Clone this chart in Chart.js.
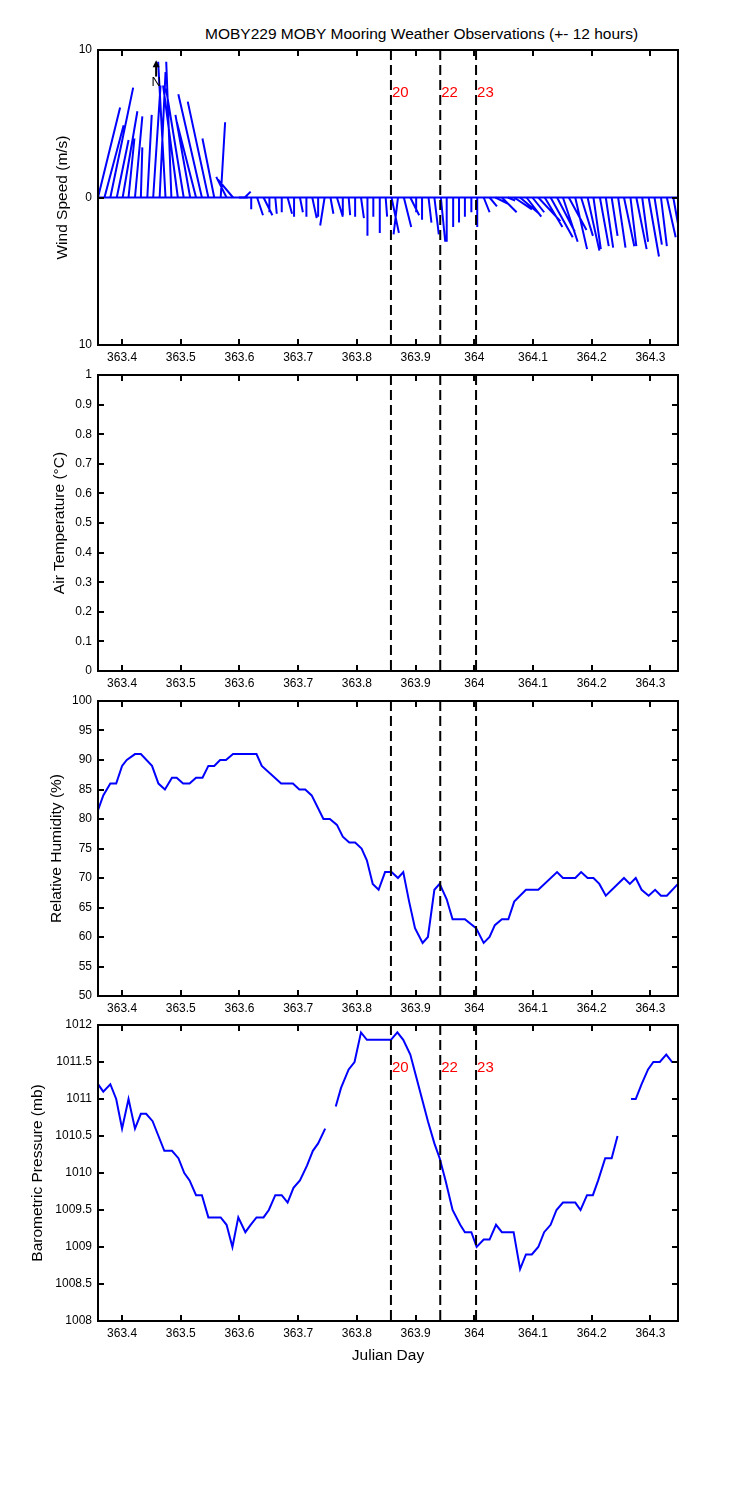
<!DOCTYPE html>
<html>
<head>
<title>MOBY229 MOBY Mooring Weather Observations</title>
<script src="https://cdn.jsdelivr.net/npm/chart.js"></script>
<style>
body { margin: 0; background: #fff; width: 750px; height: 1500px; position: relative; font-family: "Liberation Sans", Arial, sans-serif; }
canvas { position: absolute; left: 0; }
#title { position: absolute; left: 205px; top: 25px; font-size: 15.5px; line-height: 18px; color: #000; white-space: nowrap; }
</style>
</head>
<body>
<div id="title">MOBY229 MOBY Mooring Weather Observations (+- 12 hours)</div>
<canvas id="wind"></canvas>
<canvas id="air"></canvas>
<canvas id="rh"></canvas>
<canvas id="bp"></canvas>
<script>
// x range / ticks (Julian day)
const xMin = 363.359, xMax = 364.347;
const xTicks = [363.4, 363.5, 363.6, 363.7, 363.8, 363.9, 364.0, 364.1, 364.2, 364.3];

// event markers
const eventTimes = [363.858, 363.942, 364.003];
const eventLabels = ['20', '22', '23'];

// north arrow in wind panel
const northT = 363.458, northFrom = 8.2, northTo = 9.3, northLabelV = 7.8;

// wind sticks (m/s components)
const windTime = [363.359, 363.370, 363.380, 363.391, 363.401, 363.411, 363.422, 363.432, 363.443, 363.453,
  363.464, 363.474, 363.484, 363.495, 363.505, 363.516, 363.526, 363.536, 363.547, 363.557,
  363.568, 363.578, 363.589, 363.599, 363.609, 363.620, 363.630, 363.641, 363.651, 363.661,
  363.672, 363.682, 363.693, 363.703, 363.714, 363.724, 363.734, 363.745, 363.755, 363.766,
  363.776, 363.786, 363.797, 363.807, 363.818, 363.828, 363.839, 363.849, 363.859, 363.870,
  363.880, 363.891, 363.901, 363.911, 363.922, 363.932, 363.943, 363.953, 363.964, 363.974,
  363.984, 363.995, 364.005, 364.016, 364.026, 364.036, 364.047, 364.057, 364.068, 364.078,
  364.089, 364.099, 364.109, 364.120, 364.130, 364.141, 364.151, 364.161, 364.172, 364.182,
  364.193, 364.203, 364.214, 364.224, 364.234, 364.245, 364.255, 364.266, 364.276, 364.286,
  364.297, 364.307, 364.318, 364.328, 364.339];
const windU = [1.5, 1.3, 1.55, 0.8, 1.0, 0.4, 0.5, 0.1, 0.3, 0.5,
  0.4, -0.5, -0.35, -1.0, -1.2, -1.0, -1.3, -1.6, -1.4, -0.8,
  0.3, -0.7, -1.0, 0.6, 0.4, 0.0, 0.4, 0.6, 0.0, 0.1,
  0.0, 0.3, 0.0, 0.2, 0.0, 0.3, 0.0, -0.3, 0.2, 0.4,
  0.0, 0.1, 0.0, 0.2, 0.0, 0.0, 0.0, 0.1, 0.5, -0.3,
  0.5, 0.6, 0.0, 0.0, 0.2, 0.3, 0.3, 0.0, 0.0, 0.0,
  0.0, 0.0, 0.0, 0.4, 0.5, 1.0, 1.0, 0.5, 1.2, 1.3,
  1.0, 0.8, 1.5, 1.2, 1.5, 1.2, 1.0, 1.2, 0.8, 0.8,
  0.8, 0.5, 0.6, 0.5, 0.4, 0.5, 0.7, 0.4, 0.7, 0.4,
  0.7, 0.5, 0.4, 0.6, 0.5];
const windV = [6.1, 4.9, 7.45, 3.9, 5.85, 4.0, 5.5, 3.4, 5.6, 7.6,
  8.5, 9.2, 9.2, 7.6, 7.4, 5.6, 5.1, 7.0, 6.5, 4.0,
  5.1, 1.4, 1.2, 0.0, 0.4, -0.8, -1.2, -1.2, -1.0, -1.1,
  -1.0, -1.1, -1.3, -1.0, -1.3, -1.4, -1.3, -1.9, -1.1, -1.3,
  -1.2, -1.2, -1.3, -1.4, -2.6, -1.3, -2.4, -1.3, -2.4, -2.5,
  -2.0, -1.2, -1.0, -1.5, -1.7, -2.5, -3.0, -3.0, -2.0, -1.7,
  -1.3, -1.0, -2.0, -1.0, -0.6, -0.5, -1.0, -0.2, -0.8, -1.1,
  -1.3, -1.0, -1.6, -2.0, -2.7, -2.3, -3.0, -2.2, -3.5, -2.6,
  -3.6, -3.5, -3.3, -3.4, -2.6, -3.4, -3.3, -3.3, -3.5, -3.0,
  -4.0, -3.2, -3.3, -2.7, -2.8];
const stickScale = 0.0251; // days per m/s, keeps sticks isotropic

// relative humidity (%)
const rhTime = [363.359, 363.368, 363.380, 363.390, 363.400, 363.408, 363.422, 363.432, 363.451, 363.462,
  363.473, 363.485, 363.493, 363.504, 363.515, 363.526, 363.537, 363.547, 363.557, 363.567,
  363.577, 363.589, 363.629, 363.638, 363.671, 363.691, 363.702, 363.712, 363.723, 363.743,
  363.754, 363.766, 363.776, 363.787, 363.797, 363.808, 363.817, 363.827, 363.837, 363.848,
  363.859, 363.870, 363.879, 363.889, 363.899, 363.912, 363.921, 363.932, 363.941, 363.953,
  363.963, 363.984, 364.003, 364.016, 364.026, 364.035, 364.047, 364.058, 364.068, 364.088,
  364.109, 364.141, 364.151, 364.172, 364.182, 364.193, 364.203, 364.213, 364.224, 364.255,
  364.265, 364.275, 364.285, 364.297, 364.308, 364.318, 364.328, 364.347];
const rhValue = [81.5, 84, 86, 86, 89, 90, 91, 91, 89, 86,
  85, 87, 87, 86, 86, 87, 87, 89, 89, 90,
  90, 91, 91, 89, 86, 86, 85, 85, 84, 80,
  80, 79, 77, 76, 76, 75, 73, 69, 68, 71,
  71, 70, 71, 66, 61.5, 59, 60, 68, 69, 66.4,
  63, 63, 61.5, 59, 60, 62, 63, 63, 66, 68,
  68, 71, 70, 70, 71, 70, 70, 69, 67, 70,
  69, 70, 68, 67, 68, 67, 67, 69];

// barometric pressure (mb), null = missing
const bpTime = [363.359, 363.368, 363.380, 363.390, 363.400, 363.411, 363.422, 363.432, 363.441, 363.452,
  363.462, 363.472, 363.485, 363.496, 363.506, 363.515, 363.526, 363.536, 363.547, 363.568,
  363.578, 363.588, 363.598, 363.610, 363.619, 363.629, 363.641, 363.650, 363.661, 363.672,
  363.682, 363.692, 363.703, 363.715, 363.725, 363.734, 363.746, 363.755, 363.764, 363.773,
  363.786, 363.796, 363.807, 363.817, 363.858, 363.869, 363.879, 363.891, 363.901, 363.911,
  363.921, 363.932, 363.941, 363.951, 363.963, 363.976, 363.984, 363.995, 364.004, 364.016,
  364.026, 364.037, 364.047, 364.067, 364.078, 364.088, 364.098, 364.109, 364.119, 364.130,
  364.140, 364.151, 364.172, 364.181, 364.192, 364.202, 364.211, 364.223, 364.234, 364.244,
  364.255, 364.267, 364.275, 364.285, 364.296, 364.305, 364.316, 364.327, 364.337, 364.347];
const bpValue = [1011.2, 1011.1, 1011.2, 1011.0, 1010.6, 1011.0, 1010.6, 1010.8, 1010.8, 1010.7,
  1010.5, 1010.3, 1010.3, 1010.2, 1010.0, 1009.9, 1009.7, 1009.7, 1009.4, 1009.4,
  1009.3, 1009.0, 1009.4, 1009.2, 1009.3, 1009.4, 1009.4, 1009.5, 1009.7, 1009.7,
  1009.6, 1009.8, 1009.9, 1010.1, 1010.3, 1010.4, 1010.6, null, 1010.9, 1011.15,
  1011.4, 1011.5, 1011.9, 1011.8, 1011.8, 1011.9, 1011.8, 1011.6, 1011.3, 1011.0,
  1010.7, 1010.4, 1010.2, 1009.9, 1009.5, 1009.3, 1009.2, 1009.2, 1009.0, 1009.1,
  1009.1, 1009.3, 1009.2, 1009.2, 1008.7, 1008.9, 1008.9, 1009.0, 1009.2, 1009.3,
  1009.5, 1009.6, 1009.6, 1009.5, 1009.7, 1009.7, 1009.9, 1010.2, 1010.2, 1010.5,
  null, 1011.0, 1011.0, 1011.2, 1011.4, 1011.5, 1011.5, 1011.6, 1011.5, 1011.5];

const BLUE = '#0000ff';

Chart.defaults.font.family = '"Liberation Sans", Arial, sans-serif';
Chart.defaults.font.size = 12;
Chart.defaults.color = '#000';

// MATLAB-like box with inward ticks, event labels and north arrow
const boxPlugin = {
  id: 'matlabBox',
  afterDraw(chart, args, opts) {
    const { ctx, chartArea: a, scales } = chart;
    ctx.save();
    ctx.strokeStyle = '#000';
    ctx.lineWidth = 2;
    ctx.strokeRect(a.left, a.top, a.right - a.left, a.bottom - a.top);
    ctx.beginPath();
    xTicks.forEach(v => {
      const px = Math.round(scales.x.getPixelForValue(v));
      ctx.moveTo(px, a.bottom); ctx.lineTo(px, a.bottom - 6);
      ctx.moveTo(px, a.top); ctx.lineTo(px, a.top + 6);
    });
    opts.yTicks.forEach(v => {
      const py = Math.round(scales.y.getPixelForValue(v));
      ctx.moveTo(a.left, py); ctx.lineTo(a.left + 6, py);
      ctx.moveTo(a.right, py); ctx.lineTo(a.right - 6, py);
    });
    ctx.stroke();
    if (opts.eventText) {
      ctx.fillStyle = '#ff0000';
      ctx.font = '15px "Liberation Sans", Arial, sans-serif';
      ctx.textBaseline = 'middle';
      eventTimes.forEach((t, i) => {
        ctx.fillText(eventLabels[i], scales.x.getPixelForValue(t) + 1, a.top + 43);
      });
    }
    if (opts.north) {
      const px = scales.x.getPixelForValue(northT);
      const y0 = scales.y.getPixelForValue(northFrom);
      const y1 = scales.y.getPixelForValue(northTo);
      ctx.strokeStyle = '#000';
      ctx.fillStyle = '#000';
      ctx.beginPath();
      ctx.moveTo(px, y0); ctx.lineTo(px, y1 + 5);
      ctx.stroke();
      ctx.beginPath();
      ctx.moveTo(px, y1); ctx.lineTo(px - 3.5, y1 + 7); ctx.lineTo(px + 3.5, y1 + 7);
      ctx.closePath(); ctx.fill();
      ctx.font = '13px "Liberation Sans", Arial, sans-serif';
      ctx.textAlign = 'center';
      ctx.textBaseline = 'middle';
      ctx.fillText('N', px, scales.y.getPixelForValue(northLabelV));
    }
    ctx.restore();
  }
};

function eventDatasets(yMin, yMax) {
  return eventTimes.map(t => ({
    data: [{ x: t, y: yMax }, { x: t, y: yMin }],
    borderColor: '#000', borderWidth: 2, borderDash: [10, 5],
    pointRadius: 0
  }));
}

function makePanel(id, cfg) {
  const canvas = document.getElementById(id);
  const padTop = 20;
  const h = padTop + (cfg.bottom - cfg.top) + cfg.axisH;
  canvas.width = 750; canvas.height = h;
  canvas.style.top = (cfg.top - padTop) + 'px';
  canvas.style.width = '750px'; canvas.style.height = h + 'px';

  new Chart(canvas, {
    type: 'line',
    data: { datasets: eventDatasets(cfg.yMin, cfg.yMax).concat(cfg.datasets) },
    options: {
      responsive: false,
      animation: false,
      events: [],
      layout: { padding: { top: padTop, left: cfg.titleLeft, right: 72, bottom: 0 } },
      plugins: {
        legend: { display: false },
        tooltip: { enabled: false },
        matlabBox: { yTicks: cfg.yTicks, eventText: cfg.eventText, north: cfg.north }
      },
      scales: {
        x: {
          type: 'linear', min: xMin, max: xMax,
          grid: { display: false, drawTicks: false },
          border: { display: false },
          afterBuildTicks: s => { s.ticks = xTicks.map(v => ({ value: v })); },
          afterFit: s => { s.height = cfg.axisH; },
          ticks: { padding: 5, maxRotation: 0, autoSkip: false, callback: v => String(Number(v.toFixed(1))) },
          title: { display: !!cfg.xTitle, text: cfg.xTitle || '', font: { size: 15.5 }, padding: 0 }
        },
        y: {
          type: 'linear', min: cfg.yMin, max: cfg.yMax,
          grid: { display: false, drawTicks: false },
          border: { display: false },
          afterBuildTicks: s => { s.ticks = cfg.yTicks.map(v => ({ value: v })); },
          afterFit: s => { s.width = 98 - cfg.titleLeft; },
          ticks: { padding: 6, autoSkip: false, callback: cfg.yFormat },
          title: { display: true, text: cfg.yTitle, font: { size: 15.5 }, padding: 0 }
        }
      }
    },
    plugins: [boxPlugin]
  });
}

// wind sticks: one dataset with gaps between sticks
const stickPts = [];
windTime.forEach((t, i) => {
  stickPts.push({ x: t, y: 0 }, { x: t + windU[i] * stickScale, y: windV[i] }, { x: t, y: null });
});

makePanel('wind', {
  top: 50, bottom: 345, axisH: 28, titleLeft: 53,
  yMin: -10, yMax: 10, yTicks: [-10, 0, 10], yFormat: v => String(Math.abs(v)),
  yTitle: 'Wind Speed (m/s)', eventText: true, north: true,
  datasets: [
    { data: [{ x: xMin, y: 0 }, { x: xMax, y: 0 }], borderColor: BLUE, borderWidth: 2, pointRadius: 0 },
    { data: stickPts, borderColor: BLUE, borderWidth: 2, pointRadius: 0, spanGaps: false }
  ]
});

makePanel('air', {
  top: 375, bottom: 671, axisH: 28, titleLeft: 50,
  yMin: 0, yMax: 1, yTicks: [0, 0.1, 0.2, 0.3, 0.4, 0.5, 0.6, 0.7, 0.8, 0.9, 1],
  yFormat: v => String(Number(v.toFixed(1))),
  yTitle: 'Air Temperature (\u00B0C)',
  datasets: []
});

makePanel('rh', {
  top: 701, bottom: 996, axisH: 28, titleLeft: 47,
  yMin: 50, yMax: 100, yTicks: [50, 55, 60, 65, 70, 75, 80, 85, 90, 95, 100],
  yFormat: v => String(v),
  yTitle: 'Relative Humidity (%)',
  datasets: [{
    data: rhTime.map((t, i) => ({ x: t, y: rhValue[i] })),
    borderColor: BLUE, borderWidth: 2, pointRadius: 0, tension: 0
  }]
});

makePanel('bp', {
  top: 1025, bottom: 1321, axisH: 44, titleLeft: 28,
  yMin: 1008, yMax: 1012, yTicks: [1008, 1008.5, 1009, 1009.5, 1010, 1010.5, 1011, 1011.5, 1012],
  yFormat: v => String(Number(v.toFixed(1))),
  yTitle: 'Barometric Pressure (mb)', xTitle: 'Julian Day', eventText: true,
  datasets: [{
    data: bpTime.map((t, i) => ({ x: t, y: bpValue[i] })),
    borderColor: BLUE, borderWidth: 2, pointRadius: 0, tension: 0, spanGaps: false
  }]
});
</script>
</body>
</html>
